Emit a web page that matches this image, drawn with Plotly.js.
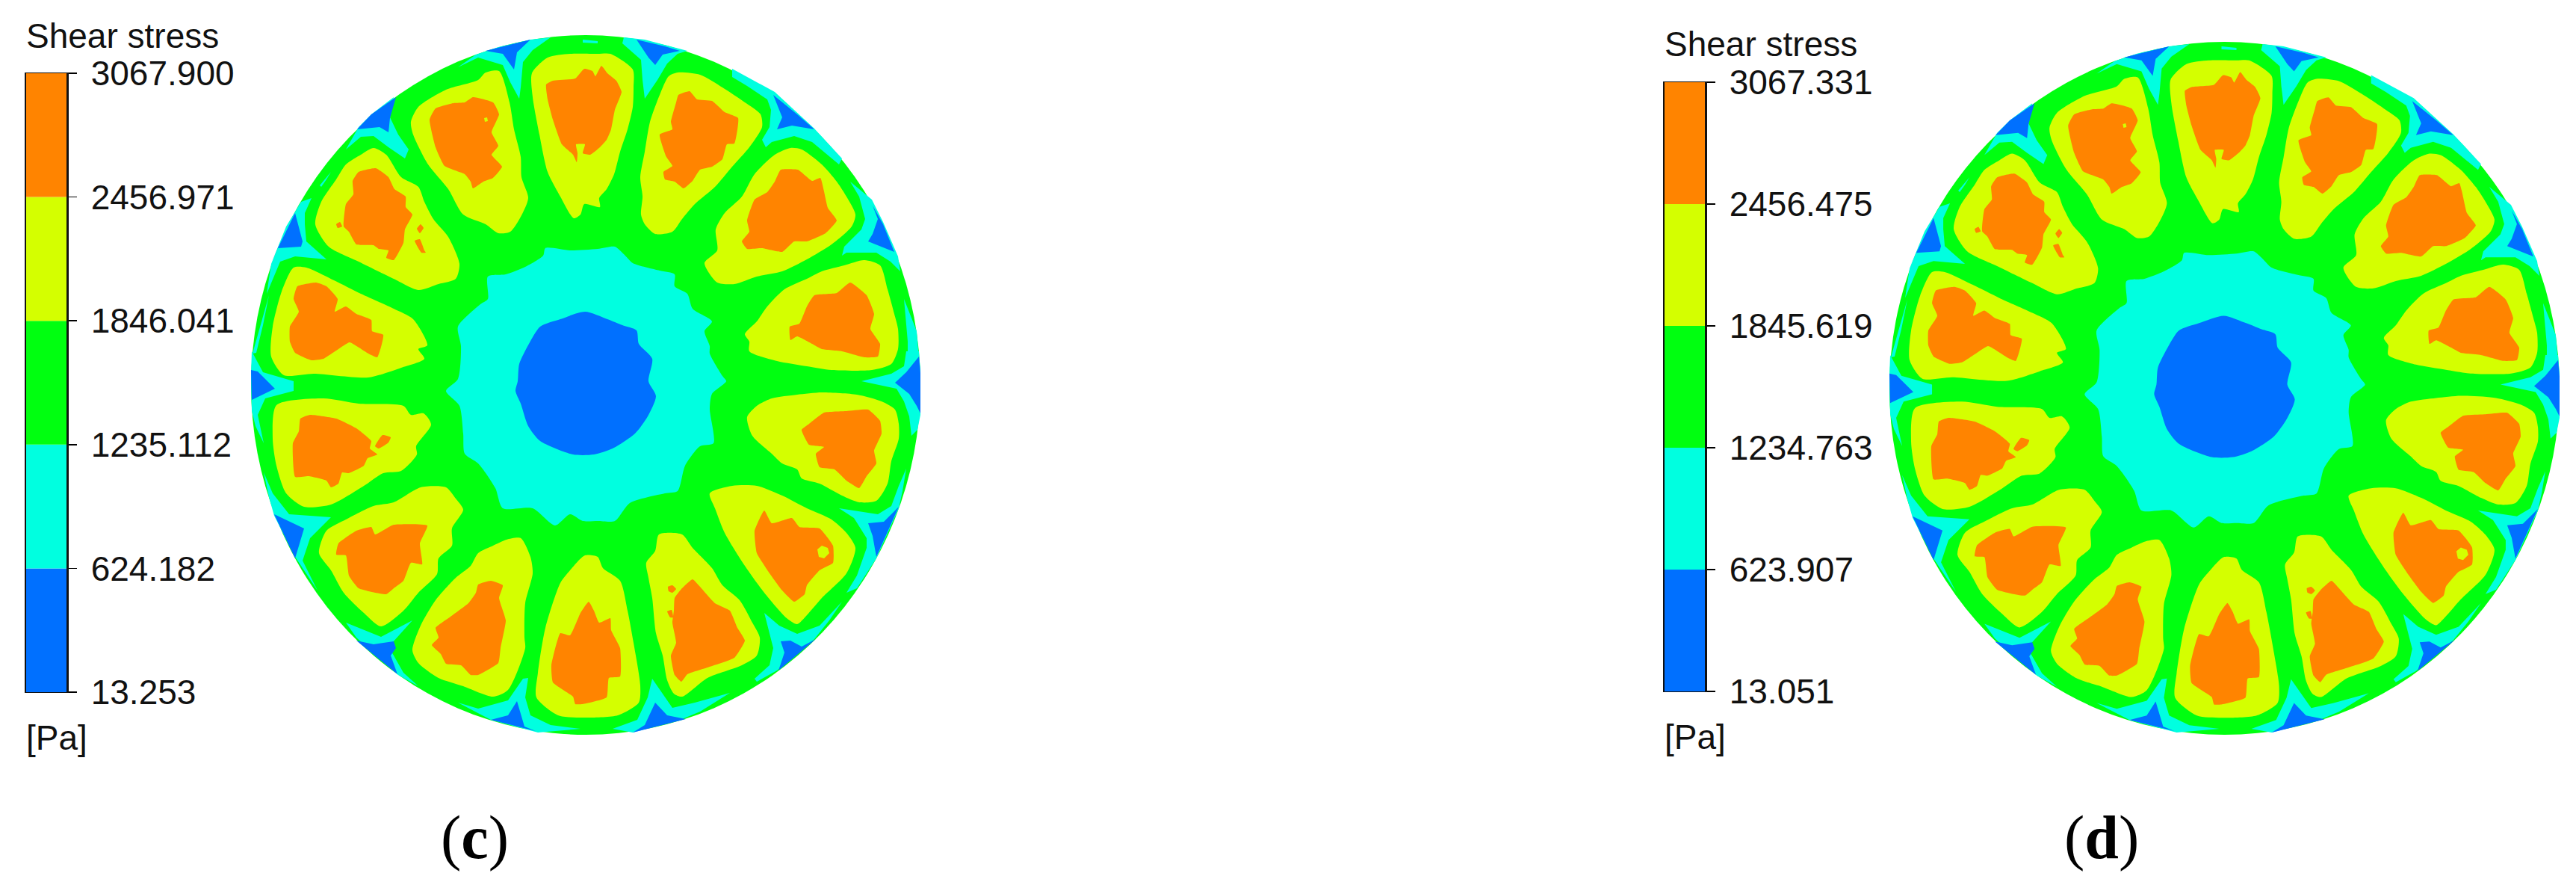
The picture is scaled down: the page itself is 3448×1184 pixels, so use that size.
<!DOCTYPE html>
<html>
<head>
<meta charset="utf-8">
<script src="https://cdn.plot.ly/plotly-3.0.1.min.js"></script>
<style>html,body{margin:0;padding:0;background:#fff}#plot{width:3448px;height:1184px}</style>
</head>
<body>
<div id="plot"></div>
<script>
// Shear stress contour bands. Outlines are in disc units of panel (c);
// panel (d) shows the same band shapes with its own scale values.
const bandColors=['#0070ff','#00ffe0','#00ff10','#d4ff00','#ff8400'];
const levelsC=[13.253,624.182,1235.112,1846.041,2456.971,3067.900];
const levelsD=[13.051,623.907,1234.763,1845.619,2456.475,3067.331];
const barName='Shear stress';
const unitName='[Pa]';

const yellowLobes=[
 [[712,98],[733,77],[763,72],[800,72],[817,72],[847,93],[848,117],[847,143],[840,173],[830,203],[822,233],[812,253],[802,265],[803,277],[782,273],[777,287],[768,292],[750,263],[733,230],[722,180],[713,130]],
 [[895,102],[907,97],[937,100],[967,117],[997,137],[1018,153],[1020,170],[1003,197],[980,223],[957,250],[930,273],[913,293],[900,310],[877,313],[863,300],[858,287],[860,263],[857,237],[863,203],[870,163],[883,127]],
 [[1058,198],[1073,200],[1100,220],[1120,243],[1133,263],[1145,287],[1140,303],[1113,327],[1080,347],[1047,363],[1013,370],[983,380],[960,378],[943,352],[960,335],[958,307],[970,285],[993,263],[1010,233],[1037,207]],
 [[1157,348],[1178,355],[1188,387],[1197,420],[1202,440],[1202,467],[1193,487],[1167,495],[1113,495],[1080,490],[1040,483],[1003,470],[1003,457],[997,447],[1013,430],[1027,410],[1050,387],[1080,373],[1100,363],[1130,355]],
 [[1000,558],[1013,543],[1033,533],[1067,528],[1100,525],[1147,528],[1180,537],[1198,548],[1203,567],[1203,587],[1193,617],[1188,647],[1173,670],[1150,672],[1127,663],[1097,647],[1073,640],[1067,628],[1047,620],[1033,607],[1007,583]],
 [[950,660],[980,650],[1013,650],[1047,663],[1080,680],[1113,695],[1133,713],[1145,733],[1133,767],[1100,800],[1080,823],[1067,835],[1053,827],[1023,793],[997,757],[970,713],[957,680]],
 [[882,715],[913,715],[927,733],[953,760],[967,783],[990,803],[1007,833],[1017,853],[1013,877],[993,890],[947,907],[913,932],[902,928],[893,910],[887,877],[878,847],[873,800],[868,773],[865,753],[877,737]],
 [[783,743],[800,745],[807,760],[830,777],[840,817],[848,860],[857,917],[855,940],[827,957],[780,960],[747,957],[718,933],[720,900],[730,840],[750,780],[763,763]],
 [[678,722],[697,720],[710,745],[713,767],[703,807],[702,853],[703,867],[680,923],[660,932],[620,918],[587,907],[560,887],[552,870],[563,837],[583,803],[610,773],[630,757],[640,740],[660,730]],
 [[527,672],[563,652],[597,652],[610,667],[620,682],[605,707],[605,730],[587,747],[585,768],[560,793],[540,817],[510,838],[487,820],[460,793],[443,763],[427,740],[437,710],[463,695],[500,677]],
 [[370,542],[433,533],[480,540],[540,543],[550,555],[567,553],[577,568],[557,597],[558,608],[537,630],[513,633],[487,650],[443,675],[407,678],[383,660],[370,623],[365,587]],
 [[393,358],[410,358],[447,375],[483,393],[527,413],[553,427],[572,462],[560,467],[568,480],[537,492],[493,505],[420,500],[380,502],[363,477],[365,437],[377,390]],
 [[483,207],[500,198],[517,207],[537,237],[560,250],[568,270],[580,293],[600,317],[615,353],[610,373],[587,380],[560,388],[527,373],[480,350],[440,330],[422,300],[430,270],[450,240],[463,220]],
 [[650,97],[668,95],[682,137],[688,173],[697,210],[698,237],[707,265],[697,290],[683,310],[667,312],[650,300],[620,287],[600,253],[573,220],[553,180],[550,163],[560,143],[597,120],[640,107]]
];
const orangeLobes=[
 [[731,113],[740,108],[770,105],[782,92],[793,95],[797,102],[805,88],[813,98],[825,108],[832,123],[823,147],[818,173],[812,187],[803,197],[790,207],[780,205],[783,193],[771,193],[773,205],[772,217],[767,207],[752,193],[740,160],[733,133]],
 [[908,127],[923,122],[933,133],[953,135],[970,150],[988,158],[983,192],[973,193],[967,213],[953,223],[937,227],[927,242],[915,252],[903,243],[890,240],[888,230],[900,222],[892,210],[883,180],[900,173],[898,163],[905,137]],
 [[1045,227],[1068,227],[1087,242],[1098,238],[1108,278],[1120,295],[1105,312],[1080,323],[1063,323],[1047,337],[1020,332],[1000,333],[993,323],[1003,310],[1000,295],[1010,267],[1027,257],[1037,243]],
 [[1138,378],[1160,395],[1170,420],[1165,440],[1178,460],[1175,477],[1157,478],[1127,470],[1100,467],[1087,460],[1067,450],[1058,455],[1057,437],[1070,433],[1080,410],[1090,395],[1120,392]],
 [[1073,575],[1083,567],[1103,552],[1133,550],[1162,548],[1178,563],[1180,580],[1170,603],[1173,620],[1160,637],[1150,653],[1133,643],[1117,628],[1097,625],[1092,607],[1103,598],[1083,595]],
 [[1010,710],[1023,683],[1033,700],[1060,693],[1070,705],[1097,707],[1115,730],[1115,753],[1097,763],[1080,783],[1077,795],[1063,805],[1047,790],[1030,767],[1013,740]],
 [[903,800],[912,788],[927,775],[937,785],[957,807],[977,817],[987,840],[997,857],[983,880],[947,893],[920,902],[912,912],[903,903],[898,877],[905,860],[900,833],[902,817]],
 [[788,805],[795,817],[802,833],[817,827],[818,843],[830,867],[830,905],[815,907],[812,933],[780,942],[770,942],[767,932],[740,913],[738,890],[750,847],[763,850],[777,820]],
 [[640,782],[657,777],[673,783],[668,800],[677,830],[670,867],[667,887],[640,903],[630,903],[617,890],[597,888],[590,875],[578,863],[587,853],[583,840],[603,825],[627,807],[637,793]],
 [[453,727],[477,710],[497,705],[502,715],[527,702],[572,703],[562,727],[565,755],[550,753],[540,777],[527,787],[517,795],[480,787],[467,770],[463,743],[450,742]],
 [[402,560],[415,555],[450,560],[477,573],[497,590],[495,600],[505,608],[492,613],[487,623],[467,633],[458,632],[453,647],[443,652],[437,643],[413,637],[395,638],[392,593],[400,577]],
 [[398,383],[423,378],[437,383],[452,400],[448,417],[463,410],[477,420],[497,428],[498,443],[513,448],[505,478],[493,473],[468,458],[453,467],[433,480],[417,482],[395,472],[388,457],[388,437],[400,417],[393,400]],
 [[480,230],[503,225],[520,237],[528,253],[543,263],[543,277],[552,287],[542,307],[540,325],[527,348],[517,345],[520,335],[507,333],[500,328],[477,327],[467,310],[460,303],[463,273],[473,260],[472,242]],
 [[583,145],[607,138],[622,137],[633,130],[660,137],[668,153],[658,177],[667,195],[658,207],[672,223],[660,238],[647,243],[633,252],[630,243],[622,233],[595,222],[583,197],[575,160]]
];
// little islands sitting inside a lobe
const orangeSpecks=[
 [[502,597],[512,582],[523,585],[520,592],[507,600]],
 [[555,322],[562,320],[568,335],[570,338],[564,338]],
 [[558,306],[563,300],[567,305],[562,312]],
 [[450,300],[455,297],[458,303],[452,305]],
 [[894,785],[900,783],[905,788],[900,793],[895,791]],
 [[893,818],[899,816],[901,826],[897,826]]
];
const yellowSpecks=[
 [[1094,735],[1100,730],[1108,733],[1110,740],[1103,747],[1096,745]],
 [[648,158],[652,157],[653,162],[649,163]]
];
const cyanGaps=[
 [[835,50],[863,53],[920,68],[907,72],[893,85],[880,107],[863,132],[860,107],[858,80],[833,58]],
 [[980,92],[1037,123],[1090,172],[1127,212],[1123,220],[1087,190],[1063,182],[1033,190],[1025,197],[1020,187],[1030,170],[1032,147],[1027,133],[1000,115],[980,103]],
 [[1138,243],[1167,267],[1182,297],[1202,343],[1205,363],[1192,350],[1173,338],[1133,338],[1127,342],[1130,330],[1153,307],[1158,293],[1150,263]],
 [[1213,470],[1230,470],[1233,510],[1232,555],[1228,575],[1220,583],[1217,557],[1210,537],[1200,520],[1153,510],[1193,500],[1210,490]],
 [[1210,400],[1227,443],[1230,480],[1215,480],[1215,457]],
 [[1123,680],[1175,688],[1193,677],[1203,650],[1213,627],[1208,657],[1203,680],[1173,747],[1147,787],[1133,793],[1147,770],[1160,733],[1160,720],[1143,693]],
 [[1023,820],[1043,837],[1067,848],[1097,837],[1127,805],[1110,830],[1090,855],[1040,897],[1013,912],[1010,908],[1030,890],[1035,867]],
 [[873,908],[890,933],[900,947],[930,940],[977,927],[937,952],[913,962],[847,980],[820,975],[853,963],[867,933]],
 [[707,907],[700,908],[680,937],[640,948],[613,940],[637,953],[657,963],[720,980],[777,975],[737,970],[710,957],[703,933]],
 [[552,830],[510,852],[463,833],[477,853],[533,903],[560,918],[540,900],[523,870],[525,860]],
 [[443,692],[387,688],[365,660],[353,632],[360,665],[367,690],[395,745],[425,790],[405,750],[415,720]],
 [[337,470],[352,498],[393,510],[393,523],[355,533],[345,555],[353,593],[342,570],[337,550],[336,500]],
 [[383,303],[403,270],[417,265],[408,285],[408,300],[410,323],[437,347],[395,343],[375,350],[357,393],[363,353]],
 [[527,130],[522,157],[533,180],[547,200],[542,212],[520,197],[500,182],[483,183],[463,200],[480,170],[497,153]],
 [[710,53],[737,50],[713,67],[700,83],[697,117],[695,132],[683,110],[673,87],[640,77],[613,90],[637,73],[667,63]],
 [[428,248],[443,230],[437,240],[430,250]],
 [[780,53],[800,55],[800,58],[780,57]],
 [[360,395],[347,440],[338,473],[343,472],[352,435]]
];
const blueWedges=[
 [[852,53],[890,62],[910,68],[887,73],[877,87],[868,77]],
 [[1035,127],[1067,153],[1090,173],[1060,168],[1040,173],[1047,157]],
 [[1168,275],[1182,300],[1197,337],[1162,323],[1168,313],[1175,293]],
 [[1230,477],[1233,510],[1232,553],[1227,543],[1217,527],[1198,512],[1213,498]],
 [[1162,700],[1183,698],[1203,678],[1173,745],[1168,717]],
 [[1045,858],[1058,857],[1073,865],[1092,855],[1042,897],[1050,873]],
 [[877,940],[893,957],[918,962],[847,980],[863,970]],
 [[692,938],[702,972],[717,978],[657,963],[680,957]],
 [[527,858],[530,867],[523,877],[532,902],[477,857],[500,862]],
 [[367,688],[407,707],[395,747],[380,715]],
 [[336,495],[345,497],[368,520],[337,535]],
 [[395,285],[405,323],[403,330],[372,332],[363,350]],
 [[530,130],[522,158],[520,177],[508,170],[478,173],[497,153]],
 [[650,68],[710,53],[692,70],[688,93],[673,72]]
];
const hubCyan=[[613,507],[617,463],[613,437],[643,407],[653,400],[653,370],[677,367],[703,357],[727,342],[730,332],[763,335],[800,333],[823,330],[835,340],[847,352],[883,362],[903,367],[903,383],[920,393],[927,413],[953,430],[943,443],[950,463],[950,473],[967,503],[972,510],[953,527],[950,547],[955,593],[937,597],[917,623],[907,657],[890,660],[843,673],[823,697],[800,697],[780,697],[763,688],[743,703],[713,680],[673,680],[663,653],[640,620],[622,607],[620,580],[615,543],[597,523]];
const hubBlue=[[693,510],[695,487],[708,460],[723,437],[750,427],[783,417],[813,427],[833,435],[852,442],[855,460],[873,480],[868,510],[878,530],[867,557],[850,580],[820,600],[795,608],[767,608],[723,590],[707,570],[697,540],[690,523]];

function bandTrace(outlines,color,xa,ya,smooth){
  // one trace, outlines split by nulls so each fills on its own
  const x=[],y=[];
  outlines.forEach(o=>{ o.forEach(p=>{ x.push(p[0]); y.push(p[1]); }); x.push(o[0][0],null); y.push(o[0][1],null); });
  const line=smooth?{width:0,color,shape:'spline',smoothing:smooth}:{width:0,color};
  return {type:'scatter',mode:'lines',x,y,xaxis:xa,yaxis:ya,fill:'toself',fillcolor:color,line,hoverinfo:'skip',showlegend:false};
}
function discTraces(xa,ya){
  return [
    bandTrace(cyanGaps,bandColors[1],xa,ya),
    bandTrace(blueWedges,bandColors[0],xa,ya),
    bandTrace([hubCyan],bandColors[1],xa,ya,0.7),
    bandTrace([hubBlue],bandColors[0],xa,ya,0.7),
    bandTrace(yellowLobes,bandColors[3],xa,ya,0.7),
    bandTrace(orangeLobes.concat(orangeSpecks),bandColors[4],xa,ya,0.4),
    bandTrace(yellowSpecks,bandColors[3],xa,ya)
  ];
}
function scaleBars(levels,xa,ya){
  return bandColors.map((c,i)=>({type:'bar',x:[0],y:[levels[i+1]-levels[i]],base:[levels[i]],width:[1],xaxis:xa,yaxis:ya,marker:{color:c,line:{width:0}},hoverinfo:'skip',showlegend:false}));
}
function scaleAxis(levels,dom){
  return {domain:dom,range:[levels[0],levels[5]],side:'right',tickmode:'array',tickvals:levels,ticktext:levels.map(v=>v.toFixed(3)),ticks:'outside',ticklen:11,tickcolor:'#000',tickwidth:1.5,ticklabelstandoff:10,showline:true,mirror:true,linecolor:'#111',linewidth:2.5,showgrid:false,zeroline:false,tickfont:{family:'Liberation Sans',size:46,color:'#111'}};
}
function stripAxis(dom){
  return {domain:dom,range:[-0.5,0.5],showticklabels:false,ticks:'',showgrid:false,zeroline:false,showline:true,mirror:true,linecolor:'#111',linewidth:1};
}
function discAxis(dom,range){
  return {domain:dom,range,visible:false,showgrid:false,zeroline:false};
}
const W=3448,H=1184;
const xd=(a,b)=>[a/W,b/W];
const yd=(top,bottom)=>[1-bottom/H,1-top/H];
const discX=[336,1232],discY=[983,47];
const ellipse=(xr,yr)=>({type:'circle',layer:'below',xref:xr,yref:yr,x0:discX[0],x1:discX[1],y0:discY[1],y1:discY[0],fillcolor:bandColors[2],line:{width:0}});
const label=(text,px,py,font)=>({text,xref:'paper',yref:'paper',x:px/W,y:1-py/H,xanchor:'left',yanchor:'middle',showarrow:false,font:font||{family:'Liberation Sans',size:46,color:'#111'}});
const capFont={family:'Liberation Serif',size:82,color:'#000'};

const traces=[...discTraces('x','y'),...discTraces('x2','y2'),...scaleBars(levelsC,'x3','y3'),...scaleBars(levelsD,'x4','y4')];
const layout={
  width:W,height:H,margin:{l:0,r:0,t:0,b:0},paper_bgcolor:'#fff',plot_bgcolor:'rgba(0,0,0,0)',barmode:'overlay',showlegend:false,
  xaxis:discAxis(xd(336,1232),discX),yaxis:discAxis(yd(47,983),discY),
  xaxis2:discAxis(xd(2529,3426),discX),yaxis2:discAxis(yd(56,983),discY),
  xaxis3:stripAxis(xd(35,89)),yaxis3:scaleAxis(levelsC,yd(98,926)),
  xaxis4:stripAxis(xd(2228,2282)),yaxis4:scaleAxis(levelsD,yd(110,925)),
  shapes:[ellipse('x','y'),ellipse('x2','y2')],
  annotations:[
    label(barName,33,48),label(unitName,33,987),
    label(barName,2226,59),label(unitName,2226,986),
    label('(<b>c</b>)',588,1120,capFont),label('(<b>d</b>)',2761,1120,capFont)
  ]
};
layout.yaxis3.anchor='x3'; layout.xaxis3.anchor='y3';
layout.yaxis4.anchor='x4'; layout.xaxis4.anchor='y4';
layout.xaxis.anchor='y'; layout.yaxis.anchor='x';
layout.xaxis2.anchor='y2'; layout.yaxis2.anchor='x2';
Plotly.newPlot('plot',traces,layout,{staticPlot:true,displayModeBar:false});
</script>
</body>
</html>
